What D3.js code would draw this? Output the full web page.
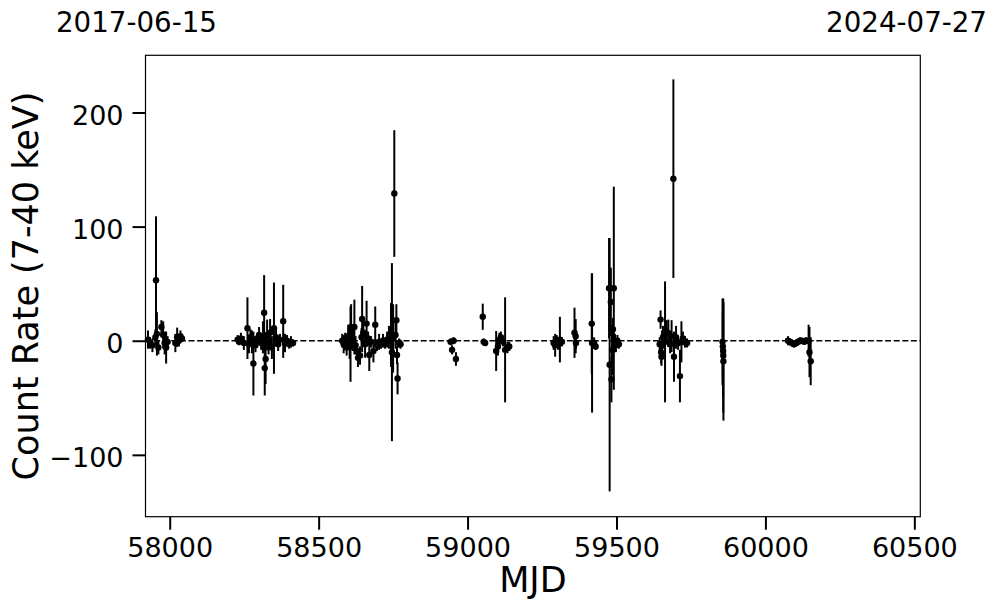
<!DOCTYPE html>
<html>
<head>
<meta charset="utf-8">
<script src="https://cdn.jsdelivr.net/npm/d3@7"></script>
<style>
  html, body { margin: 0; padding: 0; background: #fff; }
  svg { display: block; font-family: "DejaVu Sans", sans-serif; }
</style>
</head>
<body>
<svg id="chart" width="997" height="613"></svg>
<script>
// ---- data ----
const mjd = [
  57927, 57934, 57942, 57952, 57954, 57957, 57962, 57972, 57978, 57983, 57988, 57993, 58019, 58025, 58031, 58036, 58041,
  58228, 58233, 58239, 58249, 58261, 58266, 58271, 58276, 58281, 58288, 58293, 58300, 58307, 58313, 58317, 58319, 58322, 58327, 58332, 58337, 58343, 58350, 58357, 58364, 58370, 58381, 58387, 58394, 58401, 58407, 58414,
  58579, 58584, 58589, 58594, 58599, 58604, 58607, 58609, 58615, 58620, 58624, 58629, 58632, 58639, 58644, 58646, 58650, 58656, 58661, 58666, 58670, 58676, 58684, 58690, 58696, 58703, 58709, 58716, 58723, 58730, 58736, 58743, 58746, 58750, 58754, 58758, 58761, 58763, 58765, 58770, 58775,
  58943, 58948, 58953, 58961, 59051, 59054, 59059, 59096, 59102, 59107, 59112, 59119, 59126, 59134, 59140,
  59289, 59294, 59299, 59304, 59310, 59317, 59359, 59363, 59364,
  59417, 59418, 59425, 59430, 59477, 59475, 59491, 59481, 59483, 59485, 59488, 59495, 59498, 59503, 59508,
  59645, 59648, 59650, 59651, 59653, 59656, 59663, 59668, 59674, 59680, 59685, 59691, 59693, 59700, 59707, 59713, 59718, 59723, 59730, 59737,
  59856, 59857, 59858, 59858.5, 59859,
  60076, 60083, 60089, 60096, 60103, 60110, 60116, 60123, 60130, 60136, 60145, 60148, 60152
];
const rate = [
  1, -2, -4, 3, 53, 6, -6, 12, 5, -2, -6, -1, -2, 3, 0, 4, 2,
  1, -1, 2, -2, 11, -3, 3, -1, -20, -4, 2, 5, -2, 3, 24.5, -24, -16, 5, -2, 7, -6, 11, 3, -3, 1, 17, -2, 0, -3, -1, -2,
  0, -3, 2, -6, 4, -2, -3, 12, 1, 12, -4, -9, -15, -13, 3, 19, 7, -3, 15, 2, -12.5, -1, -9, 14, -4, -1, -3, 0, -2, 1, 3, 5, -10, 2, 129, 5, 18, -12.5, -33, -2, -3,
  -1, -8, 0, -16, 21, -1, -2, -9, -5, 1, 3, -1, -8, -6, -5,
  -2, -4, 1, -3, 1, -1, 7, 4, -2,
  15, -2, -2, -5, -21, 46, 46, 34, -34, -8, 10, -2, -4, 0, -3,
  -3, 18.5, -10, -14, -3, 3, -1, 8, 6.5, -3, 4, 142, -14, 3, -2, -31, -1, 2, -1, -2,
  -1, -5, -9, -13, -18,
  0, -1, -2, -3, -2, -1, 0, 0, -1, 0, 0, -10, -18
];
const rateErr = [
  8, 5, 6, 7, 56, 19, 6, 6, 12, 10, 14, 5, 8, 8.5, 5, 5, 3,
  4, 3, 5, 6, 27, 8, 7, 10, 28, 6, 4, 7, 6, 14, 33, 24, 22, 13.5, 10, 12, 10, 40, 8, 6, 5, 32, 8, 5, 4, 5, 3,
  6, 8, 5, 7, 10, 14, 33, 20, 10, 24, 8, 7, 8, 8, 8, 29, 10, 12, 20, 6, 14, 5, 10, 16, 5, 7, 4, 6, 5, 7, 10, 28, 78, 30, 55.5, 12, 14, 8, 14, 4, 4,
  3, 4, 3, 6, 11.5, 3, 2, 17.5, 8, 6, 5, 4, 46, 5, 4,
  6, 10, 4, 5, 20, 4, 22, 15, 5,
  44, 61, 5, 3, 111, 44, 89, 30, 20, 22, 10, 8, 6, 5, 4,
  6, 8, 10, 8, 12, 10, 53, 10, 12, 8, 14, 87, 22, 10, 6, 23, 18, 6, 5, 4,
  38, 30, 40, 50, 52,
  4, 3, 3, 3, 3, 3, 3, 2, 2, 3, 14, 22, 21
];
const xTicks = [58000, 58500, 59000, 59500, 60000, 60500];
const yTicks = [-100, 0, 100, 200];
const xDomain = [57918.7, 60520];
const yDomain = [-154.2, 250.1];
const startDate = "2017-06-15";
const endDate = "2024-07-27";
const xLabel = "MJD";
const yLabel = "Count Rate (7-40 keV)";

// ---- layout ----
const L = 145.5, R = 920.3, T = 55.3, B = 516.7;
const svg = d3.select("#chart");
const x = d3.scaleLinear().domain(xDomain).range([L, R]);
const y = d3.scaleLinear().domain(yDomain).range([B, T]);
const fmt = d => (d < 0 ? "\u2212" : "") + Math.abs(d);

const pts = mjd.map((m, i) => ({ m, v: rate[i], e: rateErr[i] }));

const plot = svg.append("g");

// zero line
plot.append("line")
  .attr("x1", L).attr("x2", R)
  .attr("y1", y(0)).attr("y2", y(0))
  .attr("stroke", "#000").attr("stroke-width", 1.6)
  .attr("stroke-dasharray", "6,2.6");

// error bars
plot.selectAll("line.err").data(pts).join("line")
  .attr("class", "err")
  .attr("x1", d => x(d.m)).attr("x2", d => x(d.m))
  .attr("y1", d => y(d.v + d.e)).attr("y2", d => y(d.v - d.e))
  .attr("stroke", "#000").attr("stroke-width", 2);

// points
plot.selectAll("circle").data(pts).join("circle")
  .attr("cx", d => x(d.m)).attr("cy", d => y(d.v))
  .attr("r", 3.2).attr("fill", "#000");

// frame
svg.append("rect")
  .attr("x", L).attr("y", T).attr("width", R - L).attr("height", B - T)
  .attr("fill", "none").attr("stroke", "#000").attr("stroke-width", 1.2);

// axes
const xAxis = svg.append("g").attr("transform", `translate(0,${B})`)
  .call(d3.axisBottom(x).tickValues(xTicks).tickFormat(fmt).tickSize(13).tickPadding(8));
const yAxis = svg.append("g").attr("transform", `translate(${L},0)`)
  .call(d3.axisLeft(y).tickValues(yTicks).tickFormat(fmt).tickSize(13).tickPadding(9));
[xAxis, yAxis].forEach(a => {
  a.attr("font-family", "DejaVu Sans").attr("font-size", 27);
  a.select(".domain").remove();
  a.selectAll(".tick line").attr("stroke", "#000").attr("stroke-width", 2);
  a.selectAll(".tick text").attr("fill", "#000");
});
yAxis.selectAll(".tick text").attr("dy", "0.43em");

// axis labels
svg.append("text")
  .attr("x", (L + R) / 2).attr("y", 592)
  .attr("text-anchor", "middle").attr("font-size", 35).attr("fill", "#000")
  .text(xLabel);
svg.append("text")
  .attr("transform", `translate(37.5,${(T + B) / 2}) rotate(-90)`)
  .attr("text-anchor", "middle").attr("font-size", 35).attr("fill", "#000")
  .text(yLabel);

// date labels
svg.append("text").attr("x", 56).attr("y", 32)
  .attr("font-size", 27.7).attr("fill", "#000").text(startDate);
svg.append("text").attr("x", 987).attr("y", 32).attr("text-anchor", "end")
  .attr("font-size", 27.7).attr("fill", "#000").text(endDate);
</script>
</body>
</html>
